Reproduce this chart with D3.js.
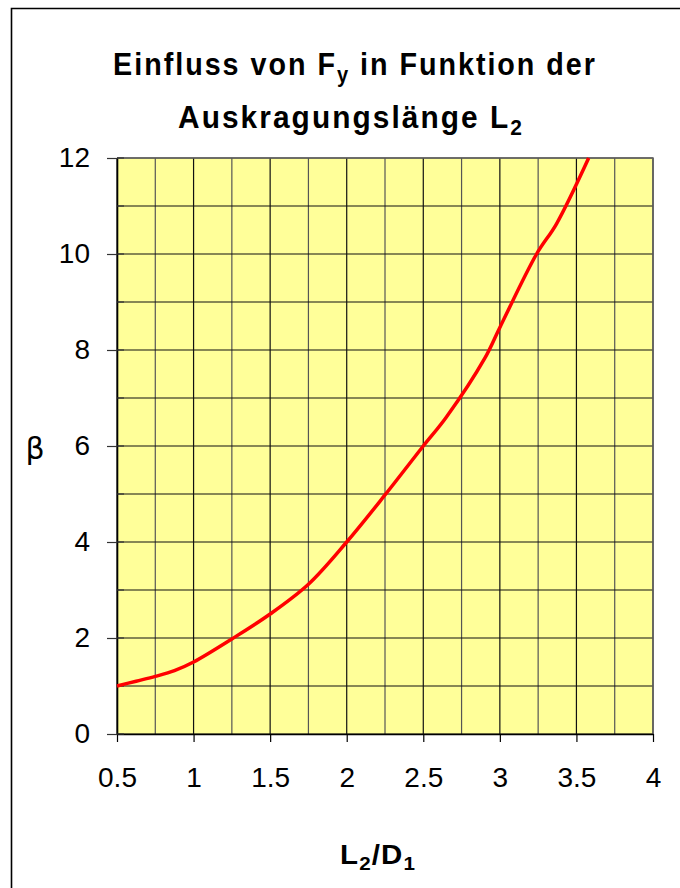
<!DOCTYPE html>
<html>
<head>
<meta charset="utf-8">
<script src="https://cdn.jsdelivr.net/npm/d3@7"></script>
<style>
  html, body { margin: 0; padding: 0; background: #fff; }
  svg { display: block; font-family: "Liberation Sans", Arial, sans-serif; }
</style>
</head>
<body>
<svg id="chart" width="680" height="888"></svg>
<script>
// Cantilever length ratio L2/D1 and the resulting factor beta
const ratioL2D1 = [0.5, 0.625, 0.75, 0.875, 1.0, 1.25, 1.5, 1.75, 2.0, 2.25, 2.5, 2.65, 2.9, 3.0, 3.24, 3.37, 3.58];
const betaValues = [1.0, 1.1, 1.2, 1.32, 1.5, 1.98, 2.5, 3.12, 4.0, 4.98, 6.0, 6.6, 7.82, 8.47, 10.0, 10.63, 12.0];

const xTickValues = [0.5, 1, 1.5, 2, 2.5, 3, 3.5, 4];
const xTickLabels = ["0.5", "1", "1.5", "2", "2.5", "3", "3.5", "4"];
const yTickValues = [0, 2, 4, 6, 8, 10, 12];
const yTickLabels = ["0", "2", "4", "6", "8", "10", "12"];
const xGridValues = d3.range(0.5, 4.001, 0.25);
const yGridValues = d3.range(0, 12.001, 1);

const svg = d3.select("#chart");
const plot = { left: 117, right: 653, top: 158, bottom: 734 };

const x = d3.scaleLinear().domain([0.5, 4]).range([plot.left, plot.right]);
const y = d3.scaleLinear().domain([0, 12]).range([plot.bottom, plot.top]);

// outer chart frame
svg.append("path")
  .attr("d", "M11.5,888 L11.5,8.5 L680,8.5")
  .attr("fill", "none").attr("stroke", "#000").attr("stroke-width", 1.6);

// plot area
svg.append("rect")
  .attr("x", plot.left).attr("y", plot.top)
  .attr("width", plot.right - plot.left).attr("height", plot.bottom - plot.top)
  .attr("fill", "#FFFF99");

// grid
svg.append("g").selectAll("line").data(xGridValues).join("line")
  .attr("x1", d => x(d)).attr("x2", d => x(d))
  .attr("y1", plot.top).attr("y2", plot.bottom)
  .attr("stroke", (d, i) => i % 2 ? "#555" : "#111").attr("stroke-width", 1.2);
svg.append("g").selectAll("line").data(yGridValues).join("line")
  .attr("x1", plot.left).attr("x2", plot.right)
  .attr("y1", d => y(d)).attr("y2", d => y(d))
  .attr("stroke", "#111").attr("stroke-width", 1.2);

// plot border (top/right)
svg.append("path")
  .attr("d", `M${plot.left},${plot.top} L${plot.right},${plot.top} L${plot.right},${plot.bottom}`)
  .attr("fill", "none").attr("stroke", "#666").attr("stroke-width", 1.5);

// x axis
const xAxis = d3.axisBottom(x).tickValues(xTickValues)
  .tickFormat((d, i) => xTickLabels[i]).tickSize(8).tickSizeOuter(0).tickPadding(25);
const gx = svg.append("g").attr("transform", `translate(0,${plot.bottom})`).call(xAxis);
gx.select(".domain").attr("stroke", "#000").attr("stroke-width", 1.6);
gx.selectAll(".tick line").attr("stroke", "#000").attr("stroke-width", 1.2);
gx.selectAll(".tick text").attr("font-size", 28).attr("fill", "#000")
  .attr("font-family", "'Liberation Sans', Arial, sans-serif");

// y axis
const yAxis = d3.axisLeft(y).tickValues(yTickValues)
  .tickFormat((d, i) => yTickLabels[i]).tickSize(10).tickSizeOuter(0).tickPadding(17);
const gy = svg.append("g").attr("transform", `translate(${plot.left},0)`).call(yAxis);
gy.select(".domain").attr("stroke", "#000").attr("stroke-width", 1.6);
gy.selectAll(".tick line").attr("stroke", "#333").attr("stroke-width", 1.2);
gy.selectAll(".tick text").attr("font-size", 28).attr("fill", "#000")
  .attr("font-family", "'Liberation Sans', Arial, sans-serif");

// minor inner ticks on the y axis
svg.append("g").selectAll("line").data(yGridValues).join("line")
  .attr("x1", plot.left).attr("x2", plot.left + 7)
  .attr("y1", d => y(d)).attr("y2", d => y(d))
  .attr("stroke", "#333").attr("stroke-width", 1.2);

// curve
const line = d3.line().x(d => x(d[0])).y(d => y(d[1])).curve(d3.curveCatmullRom.alpha(0.5));
svg.append("path")
  .datum(ratioL2D1.map((v, i) => [v, betaValues[i]]))
  .attr("d", line)
  .attr("fill", "none").attr("stroke", "#FF0000").attr("stroke-width", 3.5)
  .attr("stroke-linejoin", "round");

// bold text with subscripts, squeezed horizontally to a given width
function subText(cx, cy, parts, size, width, spacing) {
  const g = svg.append("g");
  const t = g.append("text").attr("text-anchor", "middle")
    .attr("font-weight", "bold").attr("font-size", size).attr("fill", "#000")
    .attr("letter-spacing", spacing);
  parts.forEach(p => {
    const ts = t.append("tspan").text(p.t);
    if (p.sub) ts.attr("font-size", size * 0.7).attr("dy", size * 0.22);
    if (p.back) ts.attr("dy", -size * 0.22);
  });
  const w = t.node().getBBox().width;
  g.attr("transform", `translate(${cx},${cy}) scale(${width / w},1)`);
  return t;
}

subText(355, 75, [{ t: "Einfluss von F" }, { t: "y", sub: true }, { t: " in Funktion der", back: true }], 32, 484, 2.2);
subText(351, 128, [{ t: "Auskragungslänge L" }, { t: "2", sub: true }], 32, 346, 2.2);

// axis titles
subText(378, 864, [{ t: "L" }, { t: "2", sub: true }, { t: "/D", back: true }, { t: "1", sub: true }], 27, 76, 1);

svg.append("text").attr("x", 35).attr("y", 459).attr("text-anchor", "middle")
  .attr("font-size", 30).attr("fill", "#000")
  .attr("font-family", "'DejaVu Sans', sans-serif").text("β");
</script>
</body>
</html>
